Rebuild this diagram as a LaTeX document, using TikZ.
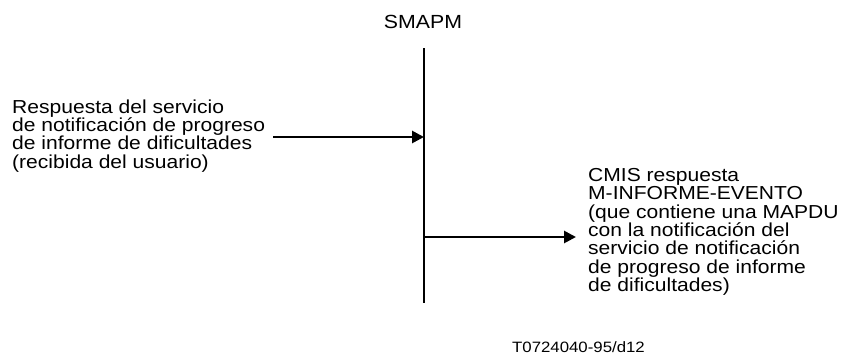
\documentclass[tikz,border=0pt]{standalone}
\usepackage{fontspec}
\setmainfont[FakeStretch=1.12]{Liberation Sans}
\usetikzlibrary{arrows.meta}
\tikzset{
    msg/.style={line width=2.7pt, -{Triangle[length=12pt,width=12pt]}},
    txt/.style={align=left, inner sep=0pt, font=\fontsize{18.8}{18.4}\selectfont},
}
\begin{document}
\begin{tikzpicture}[x=1pt, y=-1pt]
    \useasboundingbox (0, 0) rectangle (843, 354);
    \def\lx{424}
    \node[font=\fontsize{19}{20}\selectfont, anchor=base, inner sep=0pt] (smapm) at (423, 28.5) {SMAPM};
    \coordinate (top) at (\lx, 48);
    \coordinate (bot) at (\lx, 303);
    \draw[line width=2.7pt] (top) -- (bot);
    \node[txt, anchor=north west] (req) at (12, 99.3) {Respuesta del servicio\\de notificación de progreso\\de informe de dificultades\\(recibida del usuario)};
    \coordinate (inA) at (273, 137);
    \coordinate (inB) at (\lx, 137);
    \draw[msg] (inA) -- (inB);
    \node[txt, anchor=north west] (rsp) at (588, 168) {CMIS respuesta\\M-INFORME-EVENTO\\(que contiene una MAPDU\\con la notificación del\\servicio de notificación\\de progreso de informe\\de dificultades)};
    \coordinate (outA) at (\lx, 237);
    \coordinate (outB) at (576, 237);
    \draw[msg] (outA) -- (outB);
    \node[font=\fontsize{15}{18}\selectfont, anchor=base, inner sep=0pt] (ref) at (578.5, 352) {T0724040-95/d12};
\end{tikzpicture}
\end{document}
